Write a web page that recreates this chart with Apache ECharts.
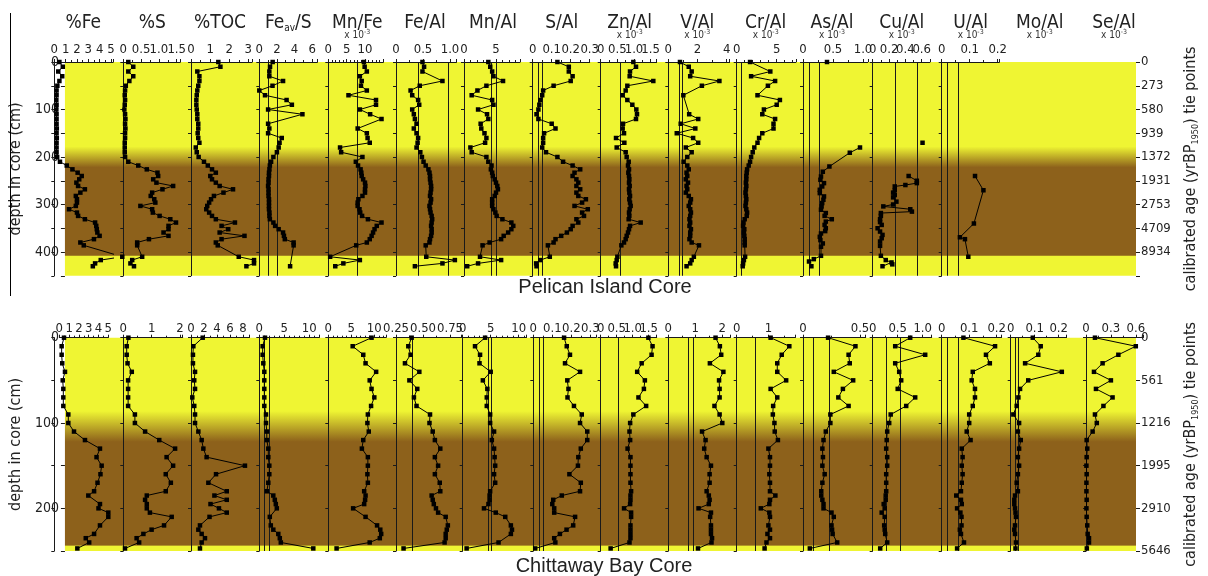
<!DOCTYPE html>
<html><head><meta charset="utf-8">
<script src="https://cdn.jsdelivr.net/npm/echarts/dist/echarts.min.js"></script>
<style>html,body{margin:0;padding:0;background:#fff}#c{width:1208px;height:576px}</style>
</head><body><div id="c"></div>
<script>
// ---------------- DATA ----------------
// Pelican Island core (top)
const topDepth = [0,10,20,30,40,50,60,70,80,90,100,110,120,130,140,150,160,170,180,190,200,
  210,218,226,233,240,247,254,261,268,275,282,289,296,303,310,317,324,331,338,345,
  352,359,366,373,380,386,410,417,424,430];
const topFe = [0.45,0.75,0.35,0.7,0.45,0.27,0.2,0.2,0.18,0.2,0.18,0.2,0.2,0.2,0.22,0.2,0.22,0.2,0.2,0.2,0.25,
  0.5,1.1,1.6,2.06,2.42,2.2,1.95,2.1,2.7,2.3,1.9,2.0,2.0,1.9,1.3,2.0,2.1,2.7,3.6,3.7,
  3.75,3.8,4.0,3.5,2.3,2.6,6.0,4.1,3.6,3.4];
const topS = [0.14,0.28,0.14,0.28,0.17,0.07,0.05,0.04,0.05,0.04,0.03,0.05,0.06,0.05,0.06,0.05,0.05,0.04,0.04,0.04,0.05,
  0.14,0.42,0.66,0.96,0.98,0.84,0.93,1.4,1.1,0.81,0.77,0.87,0.9,0.48,0.81,0.83,1.02,1.32,1.48,1.27,
  1.27,1.13,1.27,0.72,0.39,0.39,0.53,0.25,0.2,0.3];
const topTOC = [1.43,1.54,0.33,0.44,0.44,0.38,0.33,0.3,0.28,0.28,0.3,0.33,0.33,0.38,0.38,0.35,0.38,0.44,0.25,0.3,0.4,
  0.68,0.88,1.1,1.3,1.01,1.1,1.3,1.5,2.2,1.7,1.2,1.05,0.95,0.85,0.8,0.95,1.1,1.3,2.3,1.6,
  1.95,1.5,2.8,1.6,1.3,1.4,2.5,3.3,3.3,2.9];
const topFeS = [1.52,1.22,1.14,1.14,2.7,1.5,0,0.65,3.1,3.7,1.0,4.9,null,1.0,1.14,1.0,2.55,2.3,2.2,2.0,1.6,
  1.34,1.2,1.15,1.1,1.1,1.05,1.05,1.0,1.05,1.05,1.05,1.1,1.1,1.1,1.1,1.15,1.15,1.2,1.6,1.8,
  2.2,2.7,2.8,2.9,3.9,3.9,null,null,null,3.5];
const topMnFe = [9.7,9.9,10.5,8.6,9.1,8.9,10.5,5.5,13,13,8.6,11.4,14.5,null,8.0,10.5,10.7,11.3,3.2,3.5,9.3,
  7.5,8.1,8.8,9.0,9.1,9.5,10.0,10.1,10.0,10.0,9.3,8.2,8.0,8.0,8.5,8.7,9.2,10.8,14.5,13.2,
  12.6,12.2,11.8,11.3,10.5,7.6,0.5,8.6,4.1,1.9];
const topFeAl = [0.49,0.52,0.49,null,0.86,0.44,0.27,0.3,0.41,0.43,0.3,0.33,0.35,0.38,0.33,0.38,0.41,0.4,0.38,0.45,0.48,
  0.51,0.55,0.6,0.62,0.63,0.63,0.64,0.65,0.65,0.64,0.63,0.65,0.64,0.62,0.63,0.64,0.66,0.67,0.66,0.65,
  0.66,0.66,0.65,0.63,0.62,0.55,0.56,1.09,0.86,0.35];
const topMnAl = [3.8,4.1,4.4,4.6,6.1,3.5,2.1,1.2,4.4,4.6,2.2,3.6,3.8,2.6,2.7,3.2,3.5,3.3,1.0,1.2,3.5,
  3.8,4.3,4.2,4.4,4.5,4.8,5.0,5.2,5.3,5.0,4.8,4.4,4.4,4.4,4.6,4.9,5.1,6.0,7.4,7.7,
  7.4,6.9,6.2,5.8,4.0,2.9,2.5,5.8,2.2,0.5];
const topSAl = [0.13,0.19,0.19,0.21,0.2,0.11,0.055,0.05,0.04,0.035,0.03,0.02,0.03,0.1,0.12,0.06,0.055,0.055,0.05,0.07,0.13,
  0.16,0.21,0.25,0.22,0.21,0.23,0.24,0.23,0.25,0.23,0.24,0.28,0.26,0.22,0.29,0.26,0.27,0.23,0.24,0.21,
  0.2,0.18,0.15,0.12,0.11,0.08,0.09,0.04,0.018,0.02];
const topZnAl = [0.98,1.06,0.88,0.87,1.58,0.8,0.75,0.66,0.8,0.95,1.07,1.09,1.06,0.67,0.66,0.7,0.46,0.71,0.48,0.75,0.78,
  0.84,0.82,0.85,0.83,0.85,0.86,0.85,0.87,0.85,0.86,0.88,0.86,0.88,0.9,0.87,0.85,0.86,0.84,1.2,0.88,
  0.85,0.82,0.78,0.75,0.7,0.62,0.5,0.48,0.45,0.46];
const topVAl = [0.8,1.4,1.6,1.5,3.5,2.3,null,1.03,null,null,null,1.43,2.05,0.85,1.85,0.58,1.7,2.05,1.2,1.6,1.3,
  1.05,1.3,1.4,1.25,1.3,1.2,1.35,1.25,1.3,1.2,1.4,1.55,1.5,1.4,1.5,1.55,1.5,1.45,1.5,1.45,
  1.55,1.5,1.5,1.45,1.6,2.1,1.75,1.6,1.5,1.25];
const topCrAl = [1.67,null,4.2,1.8,4.8,3.9,null,2.6,5.4,5.0,3.4,3.2,4.8,4.6,4.6,3.2,2.8,2.6,2.2,2.0,1.8,
  1.67,1.5,1.3,1.25,1.2,1.2,1.15,1.2,1.15,1.1,1.15,1.2,1.15,1.1,1.2,1.3,1.25,1.0,0.85,0.8,
  0.95,0.9,0.95,1.0,1.0,1.0,1.05,0.9,0.8,0.75];
const asTopDepth = [0,90,180,191,220,231,241,248,255,262,269,276,283,290,297,304,311,318,324,331,336,343,350,356,361,368,375,382,389,408,415,420,430];
const asTop = [0.4,null,0.95,0.78,0.44,0.33,0.3,0.29,0.35,0.32,0.28,0.28,0.35,0.34,0.32,0.31,0.3,0.38,0.36,0.48,0.38,0.36,0.38,0.37,0.3,0.28,0.29,0.33,0.3,0.3,0.18,0.1,0.14];
const cuTopDepth = [170,200,240,250,255,259,262,270,275,280,285,294,300,304,310,315,318,324,331,337,343,350,357,364,371,378,387,408,417,422,426,430];
const cuTop = [0.61,null,0.44,0.54,0.54,0.4,0.27,0.27,0.25,0.27,0.25,0.29,0.25,0.13,0.46,0.48,0.1,0.1,0.09,0.09,0.11,0.06,0.09,0.12,0.11,0.09,0.09,0.1,0.16,0.23,0.24,0.12];
const uTopDepth = [240,270,340,369,373,410];
const uTop = [0.119,0.149,0.115,0.065,0.083,0.095];
const topTieLabels = ['0','273','580','939','1372','1931','2753','4709','8934'];

// Chittaway Bay core (bottom)
const botDepth = [0,10,20,30,40,50,60,70,80,90,100,110,120,130,140,150,160,170,180,
  185,190,195,200,205,210,215,220,225,230,235,240,247];
const bFe = [0.48,0.24,0.24,0.3,0.58,0.35,0.41,0.41,0.41,0.92,0.92,1.5,2.62,4.15,3.8,4.32,4.2,3.9,3.55,
  2.96,null,4.15,4.0,5.0,5.0,null,4.15,null,3.55,2.7,3.05,1.84];
const bS = [0.18,0.12,0.12,0.15,0.3,0.17,0.17,0.17,0.17,0.41,0.41,0.77,1.27,1.83,1.53,1.76,1.5,1.68,1.5,
  0.83,0.77,0.83,0.83,0.94,1.71,null,1.44,1.0,0.71,0.47,0.56,0.06];
const bTOC = [1.8,0.36,0.3,0.3,0.62,0.5,0.62,0.2,0.5,0.62,0.62,1.13,1.64,1.9,2.4,8.3,3.85,2.67,5.5,
  3.6,5.5,3.0,4.3,5.5,2.85,null,1.38,1.13,1.64,2.15,1.64,1.38];
const bFeS = [1.14,0.67,0.67,0.8,1.0,1.0,1.0,1.0,1.0,1.34,1.34,1.5,1.5,1.8,1.8,2.0,2.0,1.8,1.5,
  2.8,3.1,3.3,3.5,null,2.1,null,2.3,2.8,3.8,4.1,4.3,10.8];
const bMnFe = [9.4,5.3,7.6,8.1,10.4,9.0,9.4,10.0,9.3,8.6,8.5,8.8,7.6,7.3,8.6,8.6,8.5,8.6,7.8,
  8.1,8.0,7.8,5.4,null,8.1,null,10.6,11.3,11.5,11.2,9.0,1.8];
const bFeAl = [0.395,0.364,0.385,0.333,0.466,0.374,0.447,0.416,0.44,0.565,0.56,0.59,0.61,0.66,0.61,0.64,0.61,0.655,0.66,
  0.58,0.59,0.6,0.62,0.64,0.71,null,0.73,0.72,0.71,0.71,0.70,0.32];
const bMnAl = [4.0,2.2,3.1,3.0,5.0,3.6,4.4,4.3,4.3,4.9,4.9,5.6,5.2,5.6,5.7,5.8,5.6,5.8,4.9,
  4.8,4.8,4.6,3.8,5.9,7.6,null,8.6,8.8,8.6,null,6.4,0.7];
const bSAl = [0.162,0.176,0.193,0.167,0.246,0.179,0.185,0.18,0.214,0.255,0.246,0.284,0.284,0.25,0.237,0.235,0.19,0.25,0.246,
  0.15,0.105,0.1,0.11,0.11,0.22,null,0.21,0.175,0.14,0.11,0.116,0.01];
const bZnAl = [1.49,1.62,1.59,1.28,1.14,1.38,1.35,1.18,1.42,1.02,0.92,0.9,0.92,0.84,0.93,0.93,0.93,0.93,0.95,
  0.93,0.93,0.92,0.73,0.95,0.95,null,0.93,0.93,0.93,0.93,0.9,0.31];
const bVAl = [1.75,1.91,1.96,1.54,2.04,1.88,1.9,1.9,1.71,1.9,2.0,1.25,1.38,1.33,1.42,1.58,1.53,1.53,1.42,
  1.5,1.53,1.5,1.12,1.58,1.55,null,1.58,1.58,1.58,1.62,1.6,1.1];
const bCrAl = [1.07,1.66,1.42,1.28,1.28,1.56,1.07,1.28,1.15,1.14,1.19,1.2,1.3,1.0,1.05,1.05,1.03,1.05,1.05,
  1.22,1.05,1.03,0.76,1.03,1.05,null,1.0,1.05,0.97,1.05,0.94,0.88];
const bAsAl = [0.22,0.46,0.4,0.41,0.27,0.44,0.35,0.31,0.4,0.24,0.24,0.2,0.18,0.17,0.175,0.17,0.19,0.17,0.16,
  0.16,0.17,0.18,0.18,0.25,0.27,null,0.25,0.255,0.26,null,0.3,0.06];
const bCuAl = [0.75,0.45,1.05,0.45,0.53,0.57,0.5,0.85,0.67,0.36,0.33,0.29,0.28,0.27,0.29,0.29,0.27,0.27,0.27,
  0.26,0.26,0.22,0.24,0.18,0.24,null,0.23,0.24,0.25,null,0.29,0.15];
const bUAl = [0.079,0.194,0.161,0.175,0.113,0.109,0.121,0.121,0.113,0.1,0.1,0.091,0.105,0.073,0.076,0.073,0.076,0.073,0.07,
  0.053,0.07,0.073,0.056,0.068,0.072,null,0.072,0.066,0.07,null,0.081,0.056];
const bMoAl = [0.092,0.125,0.115,0.06,0.213,0.073,0.039,0.032,0.025,0.011,0.035,0.03,0.042,0.035,0.03,0.035,0.03,0.025,0.03,
  0.018,0.015,0.015,0.018,0.02,0.022,null,0.018,0.015,0.018,null,0.022,0.02];
const bSeAl = [0.108,0.6,0.39,0.2,0.096,0.3,0.12,0.32,0.21,0.108,0.13,0.08,0.008,0.015,0.008,0.005,0.008,0.005,0.005,
  null,0.008,null,0.005,null,0.008,null,0.015,null,0.02,0.036,0.036,0.01];
const botTieLabels = ['0','561','1216','1995','2910','5646'];

const columnTitles = ['%Fe','%S','%TOC','FeS','Mn/Fe','Fe/Al','Mn/Al','S/Al','Zn/Al','V/Al','Cr/Al','As/Al','Cu/Al','U/Al','Mo/Al','Se/Al'];
const perMille = [false,false,false,false,true,false,false,false,true,true,true,true,true,true,true,true];

// ---------------- LAYOUT ----------------
const FN = '"Liberation Sans Narrow","DejaVu Sans Condensed","Liberation Sans",Arial,sans-serif';
const FW = '"Liberation Sans",Arial,sans-serif';
const YEL = '#EFF533', BRN = '#8D611B', INK = '#1a1a1a';

const topCols = [
  {x:54.3, min:0, max:5.2, ppu:11.33, iv:1, dec:0, d:topFe},
  {x:123.3, min:0, max:1.6, ppu:35.6, iv:0.5, dec:1, d:topS},
  {x:191, min:0, max:3.2, ppu:19.1, iv:1, dec:0, d:topTOC},
  {x:259.3, min:0, max:6.6, ppu:8.8, iv:2, dec:0, d:topFeS, refs:[1,2]},
  {x:328.3, min:0, max:15, lmax:10, ppu:3.67, iv:5, dec:0, d:topMnFe, refs:[7.9]},
  {x:396, min:0, max:1.12, ppu:54, iv:0.5, dec:1, d:topFeAl, refs:[0.41,0.96]},
  {x:464, min:0, max:8.75, ppu:6.4, iv:5, dec:0, d:topMnAl, refs:[4.2,5.0]},
  {x:532.7, min:0, max:0.3, ppu:190, iv:0.1, dec:1, d:topSAl, refs:[0.025,0.053]},
  {x:600.7, min:0, max:1.68, ppu:33.3, iv:0.5, dec:1, d:topZnAl, refs:[0.58]},
  {x:668.3, min:0, max:4.2, ppu:14.6, iv:2, dec:0, d:topVAl, refs:[0.75,0.94]},
  {x:736.7, min:0, max:7.4, ppu:8, iv:5, dec:0, d:topCrAl, refs:[0.6]},
  {x:803, min:0, max:1.08, ppu:60, iv:0.5, dec:1, d:asTop, dd:asTopDepth, gap:true, refs:[0.1,0.27]},
  {x:872.7, min:0, max:0.7, ppu:81.7, iv:0.2, dec:1, d:cuTop, dd:cuTopDepth, gap:true, refs:[0.28,0.54]},
  {x:941.7, min:0, max:0.206, ppu:280, iv:0.1, dec:1, d:uTop, dd:uTopDepth, refs:[0.02,0.059]},
  {x:1010.7, none:true},
  {x:1085, none:true}
];
const botCols = [
  {x:54.3, gx:59.3, min:0, max:5, ppu:9.8, iv:1, dec:0, d:bFe},
  {x:123.3, min:0, max:2.1, ppu:28.3, iv:1, dec:0, d:bS},
  {x:191, min:0, max:9, ppu:6.5, iv:2, dec:0, d:bTOC},
  {x:259.3, min:0, max:12, ppu:5, iv:5, dec:0, d:bFeS, refs:[1,2]},
  {x:328.3, min:0, max:12.5, ppu:4.6, iv:5, dec:0, d:bMnFe},
  {x:396, min:0.25, max:0.85, ppu:108, iv:0.25, dec:2, d:bFeAl, refs:[0.4]},
  {x:462.7, min:0, max:11.4, ppu:5.6, iv:5, dec:0, d:bMnAl, refs:[4.5,5.1]},
  {x:533.3, min:0, max:0.33, ppu:190, iv:0.1, dec:1, d:bSAl, refs:[0.026,0.053]},
  {x:600.7, min:0, max:1.75, ppu:32, iv:0.5, dec:1, d:bZnAl, refs:[0.55]},
  {x:668.3, min:0, max:2.3, ppu:27, iv:1, dec:0, d:bVAl, refs:[0.75,0.94]},
  {x:736.7, min:0, max:1.85, ppu:31.7, iv:1, dec:0, d:bCrAl, refs:[0.58]},
  {x:803, min:0, max:0.55, ppu:114, iv:0.5, dec:1, d:bAsAl, refs:[0.085,0.23]},
  {x:872.7, min:0, max:1.18, ppu:50, iv:0.5, dec:1, d:bCuAl, refs:[0.27,0.56]},
  {x:941.7, min:0, max:0.218, ppu:275, iv:0.1, dec:1, d:bUAl, refs:[0.02,0.057]},
  {x:1010.7, min:0, max:0.233, ppu:240, iv:0.1, dec:1, d:bMoAl, refs:[0.022,0.032]},
  {x:1086, min:0, max:0.69, ppu:83, iv:0.3, dec:1, d:bSeAl}
];

const grids = [], xAxes = [], yAxes = [], series = [], graphics = [];

function addBackground(top, height, dmax, tie, stops) {
  const gi = grids.length;
  grids.push({left:54.3, top:top, width:1147 - 54.3, height:height});
  xAxes.push({gridIndex:gi, type:'value', min:0, max:1, show:false});
  const yl = yAxes.length;
  yAxes.push({gridIndex:gi, type:'value', inverse:true, min:0, max:dmax, interval:50, position:'left', z:5,
    axisLine:{show:false}, splitLine:{show:false},
    axisTick:{show:true, length:4, lineStyle:{color:INK}},
    axisLabel:{fontSize:14, color:'#222', fontFamily:FN, margin:6, showMinLabel:true, showMaxLabel:true,
      formatter: v => (v % 100 === 0 ? String(v) : '')},
    name:'depth in core (cm)', nameLocation:'middle', nameRotate:90, nameGap:34,
    nameTextStyle:{fontSize:16, fontFamily:FN, color:'#222'}});
  yAxes.push({gridIndex:gi, type:'value', inverse:true, min:0, max:dmax, interval:50, position:'right', z:5,
    axisLine:{show:false}, splitLine:{show:false},
    axisTick:{show:true, length:4, lineStyle:{color:INK}},
    axisLabel:{fontSize:13, color:'#222', fontFamily:FN, margin:5, showMinLabel:true, showMaxLabel:true,
      formatter: v => { const k = Math.round(v / 50); return (Math.abs(v - k*50) < 1e-6 && tie[k] !== undefined) ? tie[k] : ''; }},
    name:'calibrated age (yrBP{s|1950}) tie points', nameLocation:'middle', nameRotate:90, nameGap:46,
    nameTextStyle:{fontSize:16, fontFamily:FN, color:'#222', rich:{s:{fontSize:9, fontFamily:FN, color:'#222', padding:[9,0,0,0]}}}});
  series.push({type:'line', xAxisIndex:gi, yAxisIndex:yl, data:[], silent:true, z:1, animation:false,
    markArea:{silent:true, itemStyle:{color:new echarts.graphic.LinearGradient(0,0,0,1,stops)},
      data:[[{xAxis:0, yAxis:0},{xAxis:1, yAxis:dmax}]]}});
}

function addColumn(c, top, height, dmax, depths, labelMargin) {
  if (c.none) return;
  const gi = grids.length;
  const gx = c.gx !== undefined ? c.gx : c.x;
  const lmax = c.lmax !== undefined ? c.lmax : c.max;
  grids.push({left:gx, top:top, width:(c.max - c.min) * c.ppu, height:height});
  xAxes.push({gridIndex:gi, type:'value', position:'top', min:c.min, max:c.max, interval:c.iv, z:5,
    axisLine:{show:true, onZero:false, lineStyle:{color:INK, width:1}},
    axisTick:{show:true, length:3, lineStyle:{color:INK}},
    minorTick:{show:true, splitNumber:(c.iv === 5 ? 5 : 2), length:2, lineStyle:{color:INK}},
    splitLine:{show:false}, minorSplitLine:{show:false},
    axisLabel:{margin:labelMargin, fontSize:13, color:'#222', fontFamily:FN, showMinLabel:true, showMaxLabel:true, hideOverlap:false,
      formatter: v => { const k = v / c.iv; if (Math.abs(k - Math.round(k)) > 1e-6 || v > lmax + 1e-9) return ''; return Math.abs(v) < 1e-9 ? '0' : v.toFixed(c.dec); }}});
  const yi = yAxes.length;
  yAxes.push({gridIndex:gi, type:'value', inverse:true, min:0, max:dmax, interval:50, offset:gx - c.x, z:5,
    axisLine:{show:true, onZero:false, lineStyle:{color:INK, width:1}},
    axisTick:{show:true, length:3, lineStyle:{color:INK}},
    axisLabel:{show:false}, splitLine:{show:false}});
  const dd = c.dd || depths;
  series.push({type:'line', xAxisIndex:gi, yAxisIndex:yi, z:6, animation:false, clip:false,
    connectNulls:!c.gap, symbol:'rect', symbolSize:4.5, showSymbol:true,
    lineStyle:{color:'#000', width:1}, itemStyle:{color:'#000'},
    data: c.d.map((v, i) => [v === null ? NaN : v, dd[i]]),
    markLine: c.refs ? {silent:true, symbol:'none', animation:false, label:{show:false},
      lineStyle:{color:INK, width:1, type:'solid'}, data:c.refs.map(r => ({xAxis:r}))} : undefined});
}

const TOP = 62, TOPH = 213.75, BOT = 337.7, BOTH = 213.3;
addBackground(TOP, TOPH, 450, topTieLabels, [
  {offset:0, color:YEL},{offset:178/450, color:YEL},{offset:222/450, color:BRN},
  {offset:407/450, color:BRN},{offset:408.5/450, color:YEL},{offset:1, color:YEL}]);
addBackground(BOT, BOTH, 250, botTieLabels, [
  {offset:0, color:YEL},{offset:86/250, color:YEL},{offset:122/250, color:BRN},
  {offset:243/250, color:BRN},{offset:244.5/250, color:YEL},{offset:1, color:YEL}]);
topCols.forEach(c => addColumn(c, TOP, TOPH, 450, topDepth, 6));
botCols.forEach(c => addColumn(c, BOT, BOTH, 250, botDepth, 3));

// column headers (top panel)
topCols.forEach((c, i) => {
  const t = columnTitles[i];
  const txt = t === 'FeS' ? '{a|Fe}{b|av}{a|/S}' : '{a|' + t + '}';
  graphics.push({type:'text', x:c.x + 29, y:23, z:20, style:{text:txt, align:'center', verticalAlign:'middle',
    rich:{a:{fontSize:19, fontFamily:FN, fill:'#222'}, b:{fontSize:10, fontFamily:FN, fill:'#222', padding:[11,0,0,0]}}}});
  if (perMille[i]) {
    graphics.push({type:'text', x:c.x + 29, y:35, z:20, style:{text:'{a|x 10}{b|-3}', align:'center', verticalAlign:'middle',
      rich:{a:{fontSize:10, fontFamily:FN, fill:'#333'}, b:{fontSize:7, fontFamily:FN, fill:'#333', padding:[0,0,5,0]}}}});
  }
});
graphics.push({type:'text', x:605, y:287, z:20, style:{text:'Pelican Island Core', align:'center', verticalAlign:'middle', font:'20px ' + FW, fill:'#222'}});
graphics.push({type:'text', x:604, y:566, z:20, style:{text:'Chittaway Bay Core', align:'center', verticalAlign:'middle', font:'20px ' + FW, fill:'#222'}});
graphics.push({type:'line', z:20, shape:{x1:10.5, y1:13, x2:10.5, y2:296}, style:{stroke:'#000', lineWidth:1}});

const chart = echarts.init(document.getElementById('c'), null, {renderer:'canvas', width:1208, height:576});
chart.setOption({
  animation:false,
  backgroundColor:'#fff',
  textStyle:{fontFamily:FN},
  grid:grids, xAxis:xAxes, yAxis:yAxes, series:series, graphic:graphics
});
</script></body></html>
